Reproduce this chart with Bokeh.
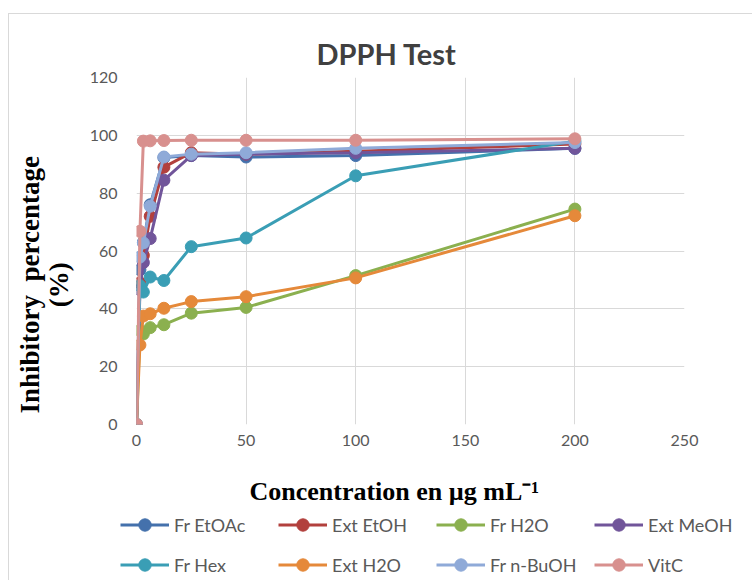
from bokeh.plotting import figure
from bokeh.models import Legend, LegendItem, FixedTicker
from bokeh.embed import file_html
from bokeh.resources import INLINE

conc = [0, 1.5625, 3.125, 6.25, 12.5, 25, 50, 100, 200]

fr_etoac = [0, 53.5, 63.0, 76.0, 92.3, 93.0, 92.5, 93.0, 95.5]
ext_etoh = [0, 49.0, 58.5, 72.0, 89.0, 94.0, 93.5, 94.5, 97.0]
fr_h2o = [0, 32.5, 31.3, 33.5, 34.5, 38.5, 40.5, 51.5, 74.5]
ext_meoh = [0, 46.6, 56.0, 64.3, 84.5, 93.0, 93.5, 94.0, 95.5]
fr_hex = [0, 48.0, 45.8, 51.0, 49.8, 61.5, 64.5, 86.0, 98.0]
ext_h2o = [0, 27.5, 37.5, 38.3, 40.2, 42.5, 44.2, 50.7, 72.2]
fr_nbuoh = [0, 57.9, 62.8, 75.5, 92.5, 93.5, 94.0, 95.5, 97.5]
vitc = [0, 66.8, 98.0, 98.1, 98.2, 98.3, 98.3, 98.3, 98.8]

names = ["Fr EtOAc", "Ext EtOH", "Fr H2O", "Ext MeOH", "Fr Hex", "Ext H2O", "Fr n-BuOH", "VitC"]
series = [fr_etoac, ext_etoh, fr_h2o, ext_meoh, fr_hex, ext_h2o, fr_nbuoh, vitc]
colors = ["#4471AC", "#B2403D", "#8BB04F", "#71559A", "#3A9EB5", "#E5893A", "#8FAAD8", "#D8908E"]

x_ticks = [0, 50, 100, 150, 200, 250]
y_ticks = [0, 20, 40, 60, 80, 100, 120]

NB = "\u00a0"

p = figure(width=744, height=494, output_backend="svg", toolbar_location=None,
           x_range=(0, 250), y_range=(0, 120),
           min_border_left=127, min_border_right=69, min_border_top=63, min_border_bottom=82,
           title="DPPH Test")
p.styles = {"margin-left": "8px", "margin-top": "13px",
            "border-top": "1px solid #D9D9D9", "border-left": "1px solid #D9D9D9"}

p.title.align = "left"
p.title.offset = 180
p.title.text_font = "Lato"
p.title.text_font_size = "29px"
p.title.text_font_style = "bold"
p.title.text_color = "#404040"
p.title.standoff = 13

p.outline_line_color = None
p.xgrid.grid_line_color = "#D9D9D9"
p.ygrid.grid_line_color = "#D9D9D9"
p.xaxis.ticker = FixedTicker(ticks=x_ticks)
p.yaxis.ticker = FixedTicker(ticks=y_ticks)

for ax in (p.xaxis[0], p.yaxis[0]):
    ax.axis_line_color = None
    ax.major_tick_line_color = None
    ax.minor_tick_line_color = None
    ax.major_label_text_font = "Lato"
    ax.major_label_text_font_size = "16px"
    ax.major_label_text_color = "#595959"
    ax.axis_label_text_font = "Liberation Serif"
    ax.axis_label_text_font_style = "bold"
    ax.axis_label_text_color = "#000000"

p.xaxis.axis_label = "Concentration en µg mL⁻¹" + NB * 5
p.xaxis.axis_label_text_font_size = "26px"
p.xaxis.major_label_standoff = 4
p.xaxis.axis_label_standoff = 28
p.yaxis.axis_label = "Inhibitory" + NB + " percentage" + NB * 10 + "\n(%)" + NB * 10
p.yaxis.axis_label_text_font_size = "27px"
p.yaxis.axis_label_text_line_height = 0.95
p.yaxis.major_label_standoff = 13
p.yaxis.axis_label_standoff = 13

for name, ys, c in zip(names, series, colors):
    p.line(conc, ys, line_color=c, line_width=3)
    p.scatter(conc, ys, size=12, fill_color=c, line_color=c)

# legend strip below the chart (its glyphs lie outside its own ranges)
lg = figure(width=744, height=73, output_backend="svg", toolbar_location=None,
            x_range=(-2, -1), y_range=(-2, -1), x_axis_type=None, y_axis_type=None,
            min_border_left=0, min_border_right=0, min_border_top=0, min_border_bottom=0)
lg.styles = {"margin-left": "8px", "border-left": "1px solid #D9D9D9"}
lg.outline_line_color = None
lg.xgrid.visible = False
lg.ygrid.visible = False
items = []
for name, ys, c in zip(names, series, colors):
    r1 = lg.line(conc, ys, line_color=c, line_width=3)
    r2 = lg.scatter(conc, ys, size=11, fill_color=c, line_color=c)
    items.append(LegendItem(label=name, renderers=[r1, r2]))

legend = Legend(items=items, orientation="horizontal", ncols=4, location=(111, 0),
                glyph_width=49, glyph_height=31, label_height=31, label_width=95,
                label_standoff=5, spacing=9, padding=0, margin=0,
                border_line_color=None, background_fill_alpha=0,
                label_text_font="Lato", label_text_font_size="18px",
                label_text_color="#595959")
lg.add_layout(legend)

open("out.html", "w").write(file_html([p, lg], INLINE))
